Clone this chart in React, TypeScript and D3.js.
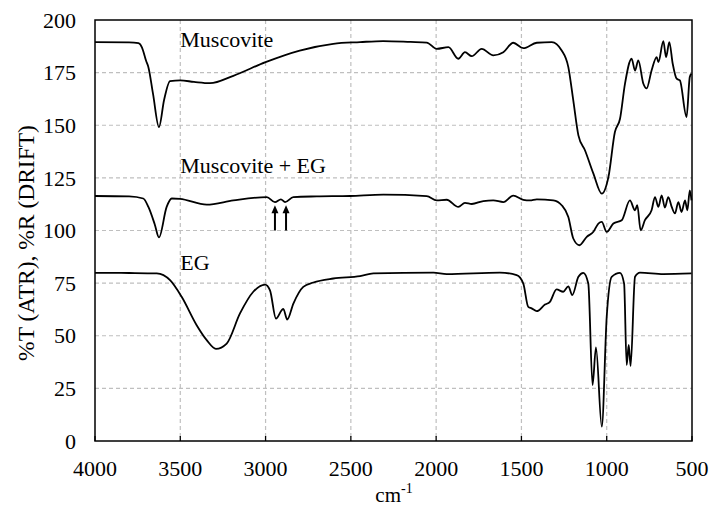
import React from "react";
import * as d3 from "d3";

const xTicks = [4000, 3500, 3000, 2500, 2000, 1500, 1000, 500];
const yTicks = [0, 25, 50, 75, 100, 125, 150, 175, 200];

const muscovite: [number, number][] = [
  [4000, 189.5], [3800, 189.4], [3745, 189.0], [3725, 187.0], [3700, 180.5], [3687, 177.6], [3660, 165], [3625, 149.1],
  [3595, 162], [3560, 171], [3500, 171.3], [3420, 170.6], [3326, 170], [3189, 173.5], [3000, 180],
  [2800, 185.5], [2603, 188.7], [2446, 189.5], [2310, 190], [2150, 189.6], [2055, 189.3], [1997, 186.3],
  [1928, 187.1], [1870, 181.6], [1831, 184.7], [1791, 182.8], [1733, 186.3], [1665, 183.2], [1606, 184.7],
  [1548, 189.2], [1489, 186.6], [1410, 189.2], [1322, 189.5], [1264, 185.5], [1225, 177.6], [1196, 161.8],
  [1166, 145.2], [1127, 138], [1078, 127], [1029, 117.5], [990, 125.4], [952, 146.8], [922, 153.1],
  [893, 169.7], [854, 181.6], [834, 176], [815, 180.8], [785, 169.7], [766, 167.5], [737, 176],
  [707, 182.4], [697, 180], [668, 190], [652, 182.4], [633, 189.5], [613, 179.2], [590, 172.1],
  [571, 171.3], [532, 153.9], [513, 172.9], [503, 174.5]
];

const muscoviteEG: [number, number][] = [
  [4000, 116.4], [3800, 116.2], [3717, 115.2], [3687, 111.2], [3650, 103], [3625, 96.7], [3580, 111.2],
  [3550, 115.2], [3502, 115], [3345, 112.3], [3189, 114.3], [2993, 115.9], [2945, 113.5], [2910, 114.8],
  [2886, 113.5], [2837, 115.9], [2700, 116.2], [2505, 116.4], [2310, 117], [2055, 116.3], [1997, 114.3],
  [1938, 114.6], [1870, 111.2], [1831, 113.1], [1791, 112.6], [1723, 114], [1665, 114.3], [1606, 113.5],
  [1548, 116.6], [1489, 114.6], [1450, 114.3], [1410, 114.8], [1313, 114.3], [1264, 112], [1225, 106.4],
  [1196, 96.2], [1160, 93], [1117, 97], [1078, 99.4], [1049, 103.3], [1029, 104.1], [1000, 99.3],
  [961, 103.3], [912, 104.9], [864, 114.3], [834, 109.6], [821, 112.1], [801, 100.1], [776, 104.9],
  [737, 109.6], [717, 115.9], [697, 111.2], [678, 116.7], [659, 110.9], [639, 115.9], [619, 111.2],
  [600, 108.1], [580, 113.5], [561, 108.8], [541, 114.3], [527, 109.6], [513, 119.1], [503, 114.3]
];

const eg: [number, number][] = [
  [4000, 79.9], [3800, 79.8], [3638, 79.6], [3560, 76.4], [3492, 68.5], [3404, 55], [3345, 47.9],
  [3291, 43.8], [3228, 46.3], [3150, 60.6], [3072, 70.9], [3003, 74.3], [2974, 71.6], [2939, 58.2],
  [2905, 62.2], [2896, 62.8], [2873, 57.7], [2837, 65.3], [2779, 73.2], [2720, 75.3], [2603, 77.2],
  [2446, 78.3], [2368, 79.6], [2016, 80], [1938, 79.3], [1626, 80], [1528, 78.8], [1489, 74.8],
  [1460, 63.7], [1440, 63], [1410, 61.7], [1362, 64.8], [1333, 66.1], [1294, 72], [1255, 70.9],
  [1225, 73.5], [1202, 69.3], [1166, 78], [1137, 79.9], [1108, 74.8], [1083, 26.6], [1063, 44.5],
  [1029, 6.8], [1000, 59], [971, 78], [922, 79.9], [898, 74.8], [883, 36.1], [871, 45.6], [860, 35.6],
  [834, 78], [805, 80], [668, 79.3], [503, 79.6]
];

const seriesLabels = [
  { text: "Muscovite", wn: 3500, value: 187 },
  { text: "Muscovite + EG", wn: 3500, value: 127.5 },
  { text: "EG", wn: 3500, value: 81 },
];

const arrowWavenumbers = [2945, 2880];
const arrowFrom = 100;
const arrowTo = 112;

export default function App() {
  const width = 711;
  const height = 508;
  const left = 95, right = 692, top = 20, bottom = 441;
  const x = d3.scaleLinear().domain([4000, 500]).range([left, right]);
  const y = d3.scaleLinear().domain([0, 200]).range([bottom, top]);
  const line = d3
    .line<[number, number]>()
    .x((d) => x(d[0]))
    .y((d) => y(d[1]))
    .curve(d3.curveMonotoneX);
  const fam = '"Liberation Serif", Tinos, "Times New Roman", "DejaVu Serif", serif';
  const textStyle: React.CSSProperties = { fontFamily: fam, fontSize: "22px" };

  return (
    <svg width={width} height={height} style={{ position: "absolute", left: 0, top: 0, background: "#fff" }}>
      <rect x={0} y={0} width={width} height={height} fill="#fff" />
      {xTicks.filter((t) => t !== 4000 && t !== 500).map((t) => (
        <line key={"gx" + t} x1={x(t)} x2={x(t)} y1={top} y2={bottom} stroke="#bfbfbf" strokeWidth={1.2} strokeDasharray="4,3" />
      ))}
      {yTicks.filter((t) => t !== 0 && t !== 200).map((t) => (
        <line key={"gy" + t} x1={left} x2={right} y1={y(t)} y2={y(t)} stroke="#bfbfbf" strokeWidth={1.2} strokeDasharray="4,3" />
      ))}
      {xTicks.map((t) => (
        <line key={"tx" + t} x1={x(t)} x2={x(t)} y1={bottom} y2={bottom - 5} stroke="#000" strokeWidth={1.3} />
      ))}
      <rect x={left} y={top} width={right - left} height={bottom - top} fill="none" stroke="#000" strokeWidth={1.5} />
      {[muscovite, muscoviteEG, eg].map((s, i) => (
        <path key={"s" + i} d={line(s) || ""} fill="none" stroke="#000" strokeWidth={1.8} strokeLinejoin="round" />
      ))}
      {arrowWavenumbers.map((w) => (
        <g key={"a" + w}>
          <line x1={x(w)} x2={x(w)} y1={y(arrowFrom)} y2={y(arrowTo) + 6} stroke="#000" strokeWidth={2} />
          <path d={`M${x(w)},${y(arrowTo)} L${x(w) - 3.5},${y(arrowTo) + 8} L${x(w) + 3.5},${y(arrowTo) + 8} Z`} fill="#000" />
        </g>
      ))}
      {seriesLabels.map((l) => (
        <text key={l.text} x={x(l.wn)} y={y(l.value)} style={textStyle} fill="#000">
          {l.text}
        </text>
      ))}
      {yTicks.map((t) => (
        <text key={"ly" + t} x={76} y={y(t)} dy="0.35em" textAnchor="end" style={textStyle} fill="#000">
          {t}
        </text>
      ))}
      {xTicks.map((t) => (
        <text key={"lx" + t} x={x(t)} y={476} textAnchor="middle" style={textStyle} fill="#000">
          {t}
        </text>
      ))}
      <text transform={`translate(34, 243) rotate(-90)`} textAnchor="middle" style={{ fontFamily: fam, fontSize: "23.5px" }} fill="#000">
        %T (ATR), %R (DRIFT)
      </text>
      <text x={394} y={502} textAnchor="middle" style={{ fontFamily: fam, fontSize: "21px" }} fill="#000">
        cm<tspan style={{ fontSize: "14px" }} dy={-9}>-1</tspan>
      </text>
    </svg>
  );
}
